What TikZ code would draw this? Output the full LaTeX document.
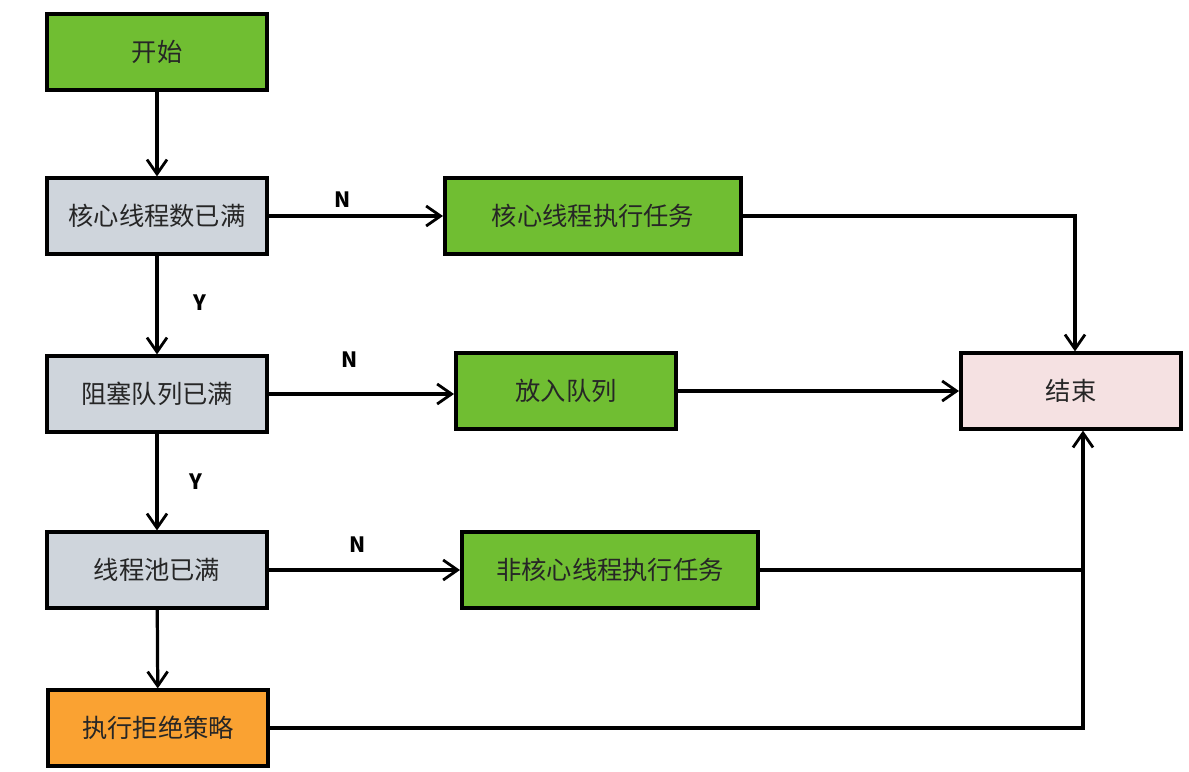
\documentclass[tikz,border=0pt]{standalone}
\usepackage{fontspec}
\setmainfont{Noto Sans CJK SC}
\usetikzlibrary{arrows.meta}
\definecolor{boxgreen}{RGB}{112,190,50}
\definecolor{boxgray}{RGB}{207,213,220}
\definecolor{boxpink}{RGB}{245,225,226}
\definecolor{boxorange}{RGB}{250,162,50}

\begin{document}
\begin{tikzpicture}[x = 0.025cm, y = -0.025cm]
    \tikzstyle{box} = [draw, line width = 2.8pt, minimum width = 5.5cm, minimum height = 1.88cm, inner sep = 0pt, text = black!85, font = \fontsize{18}{22}\selectfont];
    \tikzstyle{wide} = [box, minimum width = 7.4cm];
    \tikzstyle{lbl} = [inner sep = 1pt, font = \fontsize{15}{18}\selectfont\bfseries];
    \tikzstyle{arr} = [line width = 2.3pt, -{Straight Barb[length = 3.6mm, width = 5mm, line width = 2pt]}];
    \tikzstyle{line} = [line width = 2.3pt];
    \useasboundingbox (0,0) rectangle (1189,771);
    % boxes:
    \node[box, fill = boxgreen] (start) at (157,52){开始};
    \node[box, fill = boxgray] (corefull) at (157,216){核心线程数已满};
    \node[wide, fill = boxgreen] (corerun) at (593,216){核心线程执行任务};
    \node[box, fill = boxgray] (queuefull) at (157,394){阻塞队列已满};
    \node[box, fill = boxgreen] (enqueue) at (566,391){放入队列};
    \node[box, fill = boxpink] (finish) at (1071,391){结束};
    \node[box, fill = boxgray] (poolfull) at (157,570){线程池已满};
    \node[wide, fill = boxgreen] (noncorerun) at (610,570){非核心线程执行任务};
    \node[box, fill = boxorange] (reject) at (158,728){执行拒绝策略};
    % labels:
    \node[lbl] (n1) at (343,200){N};
    \node[lbl] (y1) at (200,303){Y};
    \node[lbl] (n2) at (350,360){N};
    \node[lbl] (y2) at (196,482){Y};
    \node[lbl] (n3) at (358,545){N};
    % connectors:
    \draw[arr] (start) -- (corefull);
    \draw[arr] (corefull) -- (corerun);
    \draw[arr] (corerun.east) -| ([xshift = 0.1cm]finish.north);
    \draw[arr] (corefull) -- (queuefull);
    \draw[arr] (queuefull.east) -- (enqueue.west |- queuefull.east);
    \draw[arr] (enqueue) -- (finish);
    \draw[arr] (queuefull) -- (poolfull);
    \draw[arr] (poolfull) -- (noncorerun);
    \draw[line] (noncorerun.east) -- ([xshift = 0.3cm]noncorerun.east -| finish.south);
    \draw[arr] (poolfull) -- (reject);
    \draw[arr] (reject.east) -| ([xshift = 0.3cm]finish.south);
\end{tikzpicture}
\end{document}
